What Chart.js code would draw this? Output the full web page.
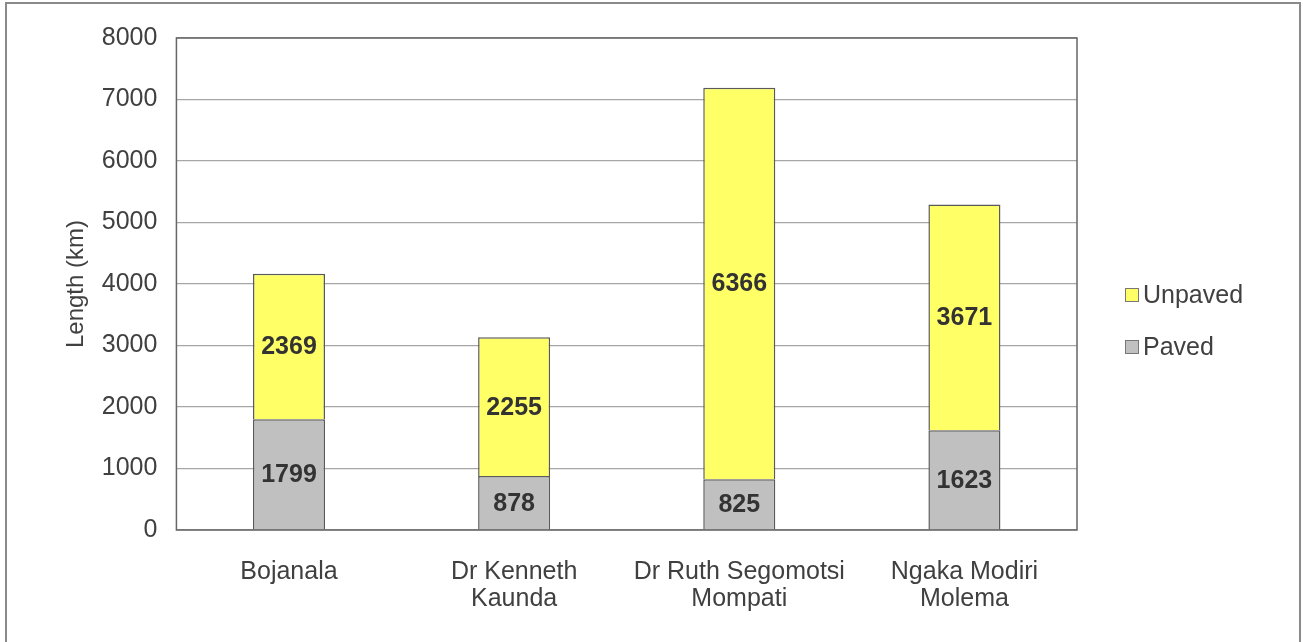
<!DOCTYPE html>
<html lang="en">
<head>
    <meta charset="UTF-8">
    <title>Road length by district</title>
    <script src="https://cdn.jsdelivr.net/npm/chart.js"></script>
    <style>
        html, body { margin: 0; padding: 0; background: #fff; }
        .frame {
            position: absolute; left: 5px; top: 2px;
            width: 1292px; height: 700px;
            border: 2px solid #8a8a8a;
        }
        .wrap { position: absolute; left: 0; top: 0; width: 1303px; height: 642px; }
    </style>
</head>
<body>
    <div class="frame"></div>
    <div class="wrap"><canvas id="roadChart"></canvas></div>

    <script type=text/javascript>
        // data
        var districts = [
            ['Bojanala'],
            ['Dr Kenneth', 'Kaunda'],
            ['Dr Ruth Segomotsi', 'Mompati'],
            ['Ngaka Modiri', 'Molema']
        ];
        var paved = [1799, 878, 825, 1623];
        var unpaved = [2369, 2255, 6366, 3671];

        var FONT = "'Liberation Sans', Arial, sans-serif";
        var TEXT = '#404040';
        Chart.defaults.font.family = FONT;
        Chart.defaults.color = TEXT;

        // numbers in the middle of each bar segment
        var segmentLabels = {
            id: 'segmentLabels',
            afterDatasetsDraw: function(chart) {
                var ctx = chart.ctx;
                ctx.save();
                ctx.font = "bold 25px " + FONT;
                ctx.fillStyle = '#333';
                ctx.textAlign = 'center';
                ctx.textBaseline = 'middle';
                chart.data.datasets.forEach(function(ds, i) {
                    var meta = chart.getDatasetMeta(i);
                    meta.data.forEach(function(bar, j) {
                        var mid = (bar.y + bar.base) / 2;
                        ctx.fillText(ds.data[j], bar.x, mid + 1);
                    });
                });
                ctx.restore();
            }
        };

        // box round the plot area + legend on the right (last dataset first)
        var plotFrame = {
            id: 'plotFrame',
            afterDraw: function(chart) {
                var a = chart.chartArea;
                var ctx = chart.ctx;
                ctx.save();
                ctx.strokeStyle = '#666';
                ctx.lineWidth = 1.5;
                ctx.strokeRect(a.left, a.top, a.right - a.left, a.bottom - a.top);

                var sets = chart.data.datasets.slice().reverse();
                var x = a.right + 48;
                var y0 = chart.height / 2 - 26;
                ctx.font = "25px " + FONT;
                ctx.textAlign = 'left';
                ctx.textBaseline = 'middle';
                sets.forEach(function(ds, k) {
                    var y = y0 + k * 52;
                    ctx.fillStyle = ds.backgroundColor;
                    ctx.fillRect(x, y - 7, 14, 14);
                    ctx.strokeStyle = '#777';
                    ctx.lineWidth = 1;
                    ctx.strokeRect(x + 0.5, y - 6.5, 13, 13);
                    ctx.fillStyle = TEXT;
                    ctx.fillText(ds.label, x + 18, y + 1);
                });
                ctx.restore();
            }
        };

        var ctx = document.getElementById('roadChart').getContext('2d');
        var roadChart = new Chart(ctx, {
            type: 'bar',
            data: {
                labels: districts,
                datasets: [
                    {
                        label: 'Paved',
                        data: paved,
                        backgroundColor: '#c0c0c0',
                        borderColor: '#5a5a5a',
                        borderWidth: 1.5,
                        barPercentage: 0.32,
                        categoryPercentage: 1.0
                    },
                    {
                        label: 'Unpaved',
                        data: unpaved,
                        backgroundColor: '#ffff66',
                        borderColor: '#5a5a5a',
                        borderWidth: 1.5,
                        barPercentage: 0.32,
                        categoryPercentage: 1.0
                    }
                ]
            },
            options: {
                responsive: true,
                maintainAspectRatio: false,
                animation: false,
                layout: {
                    padding: { left: 60, top: 38, right: 226, bottom: 1 }
                },
                plugins: {
                    tooltip: { enabled: false },
                    legend: { display: false }
                },
                scales: {
                    x: {
                        stacked: true,
                        grid: { display: false, drawTicks: false },
                        border: { display: false },
                        ticks: {
                            color: TEXT,
                            padding: 28,
                            font: { size: 25, lineHeight: 1.1 },
                            maxRotation: 0
                        }
                    },
                    y: {
                        stacked: true,
                        min: 0,
                        max: 8000,
                        grid: { color: '#a6a6a6', lineWidth: 1.2, drawTicks: false },
                        border: { display: false },
                        title: {
                            display: true,
                            text: 'Length (km)',
                            color: TEXT,
                            font: { size: 24, lineHeight: 1.2 },
                            padding: { top: 2, bottom: -8 }
                        },
                        ticks: {
                            stepSize: 1000,
                            color: TEXT,
                            padding: 19,
                            font: { size: 25 },
                            callback: function(v) { return String(v); }
                        }
                    }
                }
            },
            plugins: [segmentLabels, plotFrame]
        });
    </script>
</body>
</html>
